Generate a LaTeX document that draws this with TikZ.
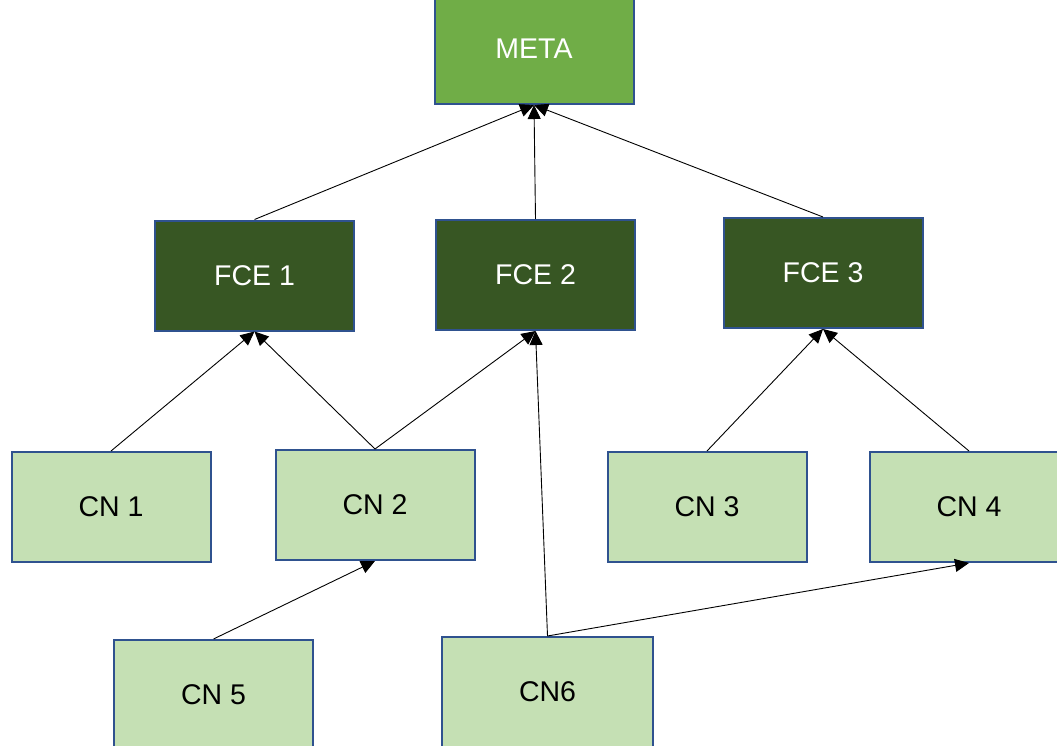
\documentclass[tikz,border=0pt]{standalone}
\usepackage{fontspec}
\setmainfont{Liberation Sans}
\usepackage{tikz}
\usetikzlibrary{arrows.meta}

\definecolor{metagreen}{HTML}{70AD47}
\definecolor{fcegreen}{HTML}{375623}
\definecolor{cngreen}{HTML}{C5E0B4}
\definecolor{boxblue}{HTML}{2F528F}

\begin{document}
\begin{tikzpicture}[x=1pt, y=-1pt,
    box/.style={draw=boxblue, line width=2pt, minimum width=199pt, minimum height=110pt,
        inner sep=0pt, font=\fontsize{28.5}{34}\selectfont},
    metabox/.style={box, fill=metagreen, text=white},
    fcebox/.style={box, fill=fcegreen, text=white},
    cnbox/.style={box, fill=cngreen, text=black},
    link/.style={-{Triangle[length=14pt, width=13pt]}, line width=0.9pt, black}]
    \useasboundingbox (0, 0) rectangle (1057, 746);
    \clip (0, 0) rectangle (1057, 746);

    % Top
    \node[metabox] (meta) at (534, 49) {META};

    % FCE row
    \node[fcebox] (fce1) at (254.5, 275.5) {FCE 1};
    \node[fcebox] (fce2) at (535.5, 275) {FCE 2};
    \node[fcebox] (fce3) at (823, 273) {FCE 3};

    % CN row
    \node[cnbox] (cn1) at (111, 507) {CN 1};
    \node[cnbox] (cn2) at (375, 505) {CN 2};
    \node[cnbox] (cn3) at (707, 507) {CN 3};
    \node[cnbox] (cn4) at (969, 507) {CN 4};

    % Bottom row
    \node[cnbox] (cn5) at (213.5, 695) {CN 5};
    \node[cnbox, minimum width=211pt] (cn6) at (547.5, 692) {CN6};

    % Links
    \draw[link] (fce1.north) -- (meta.south);
    \draw[link] (fce2.north) -- (meta.south);
    \draw[link] (fce3.north) -- (meta.south);
    \draw[link] (cn1.north) -- (fce1.south);
    \draw[link] (cn2.north) -- (fce1.south);
    \draw[link] (cn2.north) -- (fce2.south);
    \draw[link] (cn6.north) -- (fce2.south);
    \draw[link] (cn3.north) -- (fce3.south);
    \draw[link] (cn4.north) -- (fce3.south);
    \draw[link] (cn5.north) -- (cn2.south);
    \draw[link] (cn6.north) -- (cn4.south);
\end{tikzpicture}
\end{document}
